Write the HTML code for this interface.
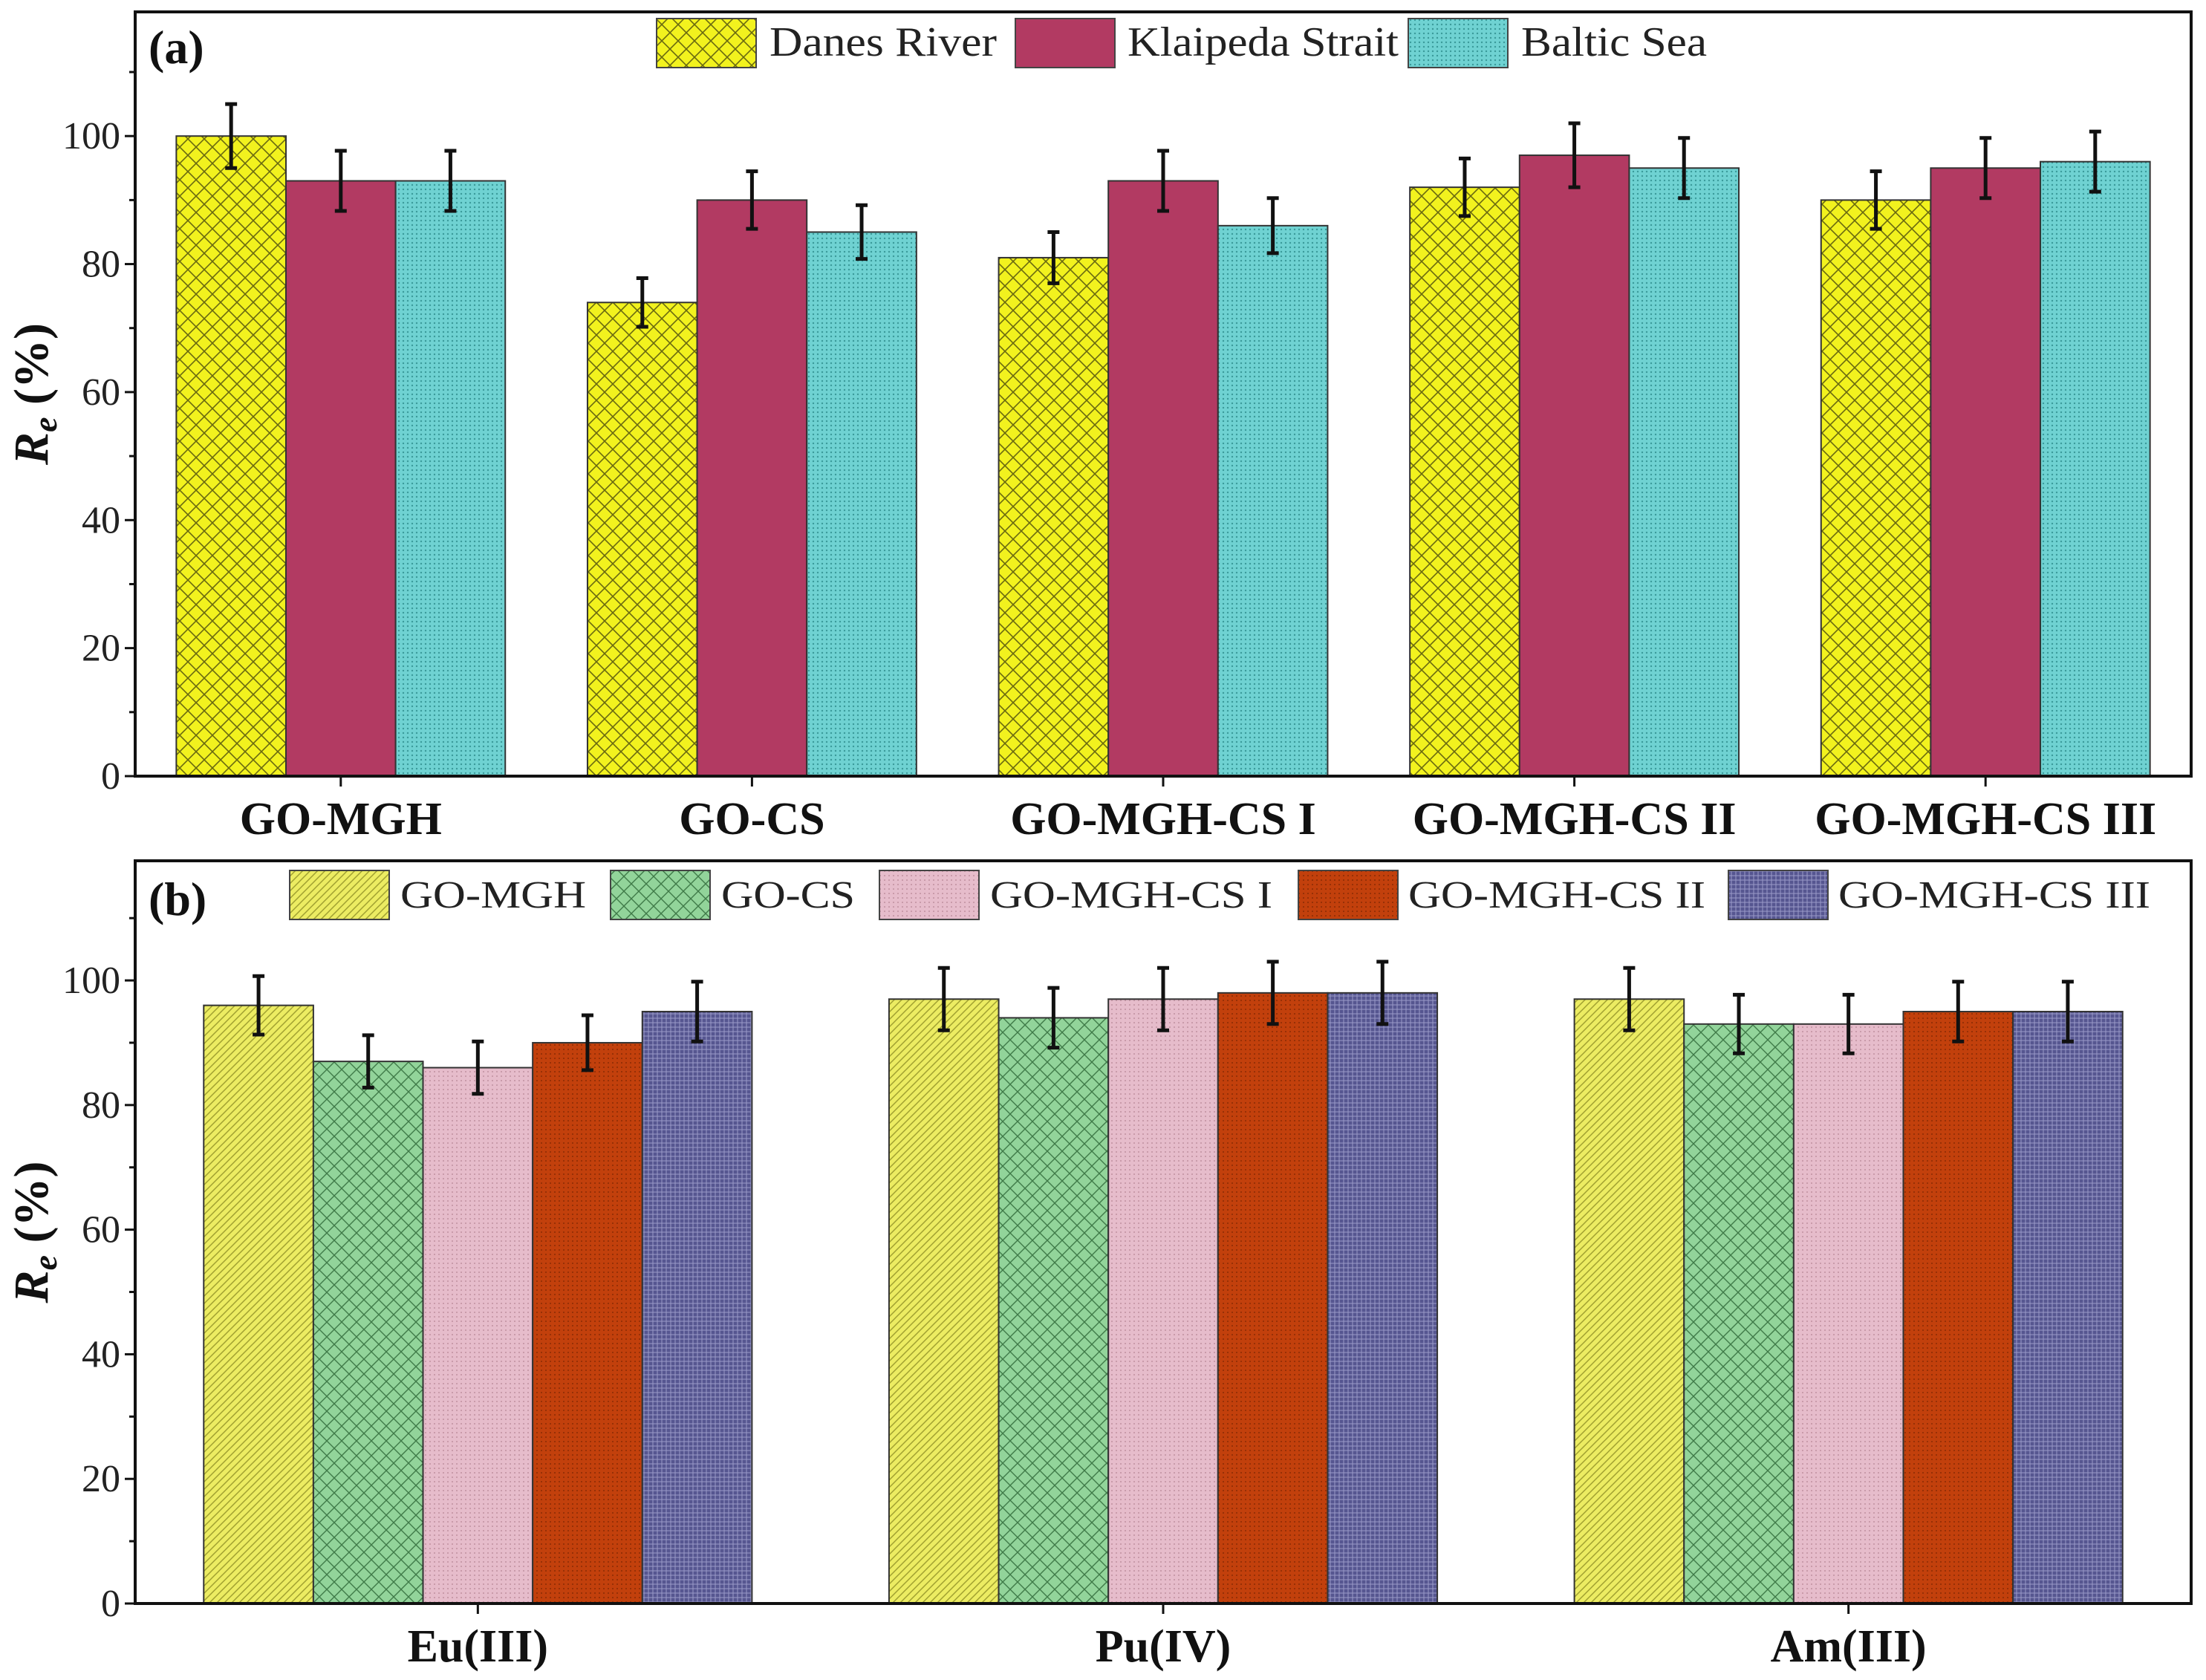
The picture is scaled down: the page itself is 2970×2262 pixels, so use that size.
<!DOCTYPE html>
<html><head><meta charset="utf-8"><style>
html,body{margin:0;padding:0;background:#fff;}
svg{display:block;font-family:"Liberation Serif",serif;}
</style></head><body>
<svg id="chart" width="2970" height="2262" viewBox="0 0 2970 2262" xmlns="http://www.w3.org/2000/svg">
<defs>
<pattern id="pDanes" width="22" height="22" patternUnits="userSpaceOnUse"><rect width="22" height="22" fill="#f2f21e"/><path d="M0 0L22 22M22 0L0 22" stroke="#6a6a10" stroke-width="1.6"/></pattern>
<pattern id="pKlai" width="8" height="8" patternUnits="userSpaceOnUse"><rect width="8" height="8" fill="#b23a62"/></pattern>
<pattern id="pBaltic" width="6" height="6" patternUnits="userSpaceOnUse"><rect width="6" height="6" fill="#6fd2d2"/><circle cx="3" cy="3" r="1.2" fill="#3a9a9a"/></pattern>
<pattern id="pMGH" width="10" height="10" patternUnits="userSpaceOnUse"><rect width="10" height="10" fill="#ecec62"/><path d="M0 10L10 0M-2 2L2 -2M8 12L12 8" stroke="#a0a030" stroke-width="1.5"/></pattern>
<pattern id="pCS" width="20" height="20" patternUnits="userSpaceOnUse"><rect width="20" height="20" fill="#92d49a"/><path d="M0 0L20 20M20 0L0 20" stroke="#3f7a48" stroke-width="1.4"/></pattern>
<pattern id="pCS1" width="6" height="6" patternUnits="userSpaceOnUse"><rect width="6" height="6" fill="#e6bccb"/><circle cx="3" cy="3" r="1" fill="#c090a0"/></pattern>
<pattern id="pCS2" width="6" height="6" patternUnits="userSpaceOnUse"><rect width="6" height="6" fill="#c2400c"/><circle cx="3" cy="3" r="1" fill="#8a2a04"/></pattern>
<pattern id="pCS3" width="6" height="6" patternUnits="userSpaceOnUse"><rect width="6" height="6" fill="#565690"/><path d="M3 0V6M0 3H6" stroke="#9a9ac8" stroke-width="1"/></pattern>
</defs>
<g id="panelA"></g>
<g id="panelB"></g>
</svg>
<script>
// Panel (a) data
const catsA = ["GO-MGH","GO-CS","GO-MGH-CS I","GO-MGH-CS II","GO-MGH-CS III"];
const seriesA = ["Danes River","Klaipeda Strait","Baltic Sea"];
const danes = [100,74,81,92,90];
const klaipeda = [93,90,93,97,95];
const baltic = [93,85,86,95,96];
const danesErr = [5,3.8,4,4.5,4.5];
const klaipedaErr = [4.7,4.5,4.7,5,4.7];
const balticErr = [4.7,4.2,4.3,4.7,4.7];
// Panel (b) data
const catsB = ["Eu(III)","Pu(IV)","Am(III)"];
const seriesB = ["GO-MGH","GO-CS","GO-MGH-CS I","GO-MGH-CS II","GO-MGH-CS III"];
const mgh = [96,97,97];
const cs = [87,94,93];
const cs1 = [86,97,93];
const cs2 = [90,98,95];
const cs3 = [95,98,95];
const mghErr = [4.7,5,5];
const csErr = [4.2,4.8,4.7];
const cs1Err = [4.2,5,4.7];
const cs2Err = [4.4,5,4.8];
const cs3Err = [4.8,5,4.8];
const yTicks = [0,20,40,60,80,100];

const NS="http://www.w3.org/2000/svg";
function mk(parent,tag,attrs,text){const e=document.createElementNS(NS,tag);for(const k in attrs)e.setAttribute(k,attrs[k]);if(text!==undefined)e.textContent=text;parent.appendChild(e);return e;}

function drawPanel(g,cfg){
  const {x0,x1,yTop,yZero,ymax,cats,vals,errs,fills,label,legend,legY,names} = cfg;
  const y = v => yZero - v*(yZero-yTop)/ymax;
  const n = cats.length, step=(x1-x0)/n, m=vals.length, bw=step*0.8/m;
  for(let s=0;s<m;s++){
    for(let i=0;i<n;i++){
      const cx = x0+step*(i+0.5), bx = cx-step*0.4+s*bw;
      const r = mk(g,'rect',{x:bx,y:y(vals[s][i]),width:bw,height:yZero-y(vals[s][i]),fill:`url(#${fills[s]})`,stroke:'#333',"stroke-width":2});
      
      
      const ex = bx+bw/2, hi=y(vals[s][i]+errs[s][i]), lo=y(vals[s][i]-errs[s][i]);
      const eb = mk(g,'path',{d:`M${ex} ${hi}V${lo}M${ex-8} ${hi}H${ex+8}M${ex-8} ${lo}H${ex+8}`,stroke:'#111',"stroke-width":5,fill:'none'});
      
      
    }
  }
  const fr = mk(g,'rect',{x:x0,y:yTop,width:x1-x0,height:yZero-yTop,fill:'none',stroke:'#111',"stroke-width":4});
  
  
  for(let v=0; v<=ymax; v+=10){
    const major = v%20===0;
    mk(g,'line',{x1:x0-(major?14:8),x2:x0,y1:y(v),y2:y(v),stroke:'#111',"stroke-width":3});
  }
  yTicks.forEach(v=>{
    const t = mk(g,'text',{x:x0-20,y:y(v)+17,"text-anchor":'end',"font-size":52,fill:'#222'},String(v));
    
    
  });
  for(let i=0;i<n;i++){
    const cx=x0+step*(i+0.5);
    mk(g,'line',{x1:cx,x2:cx,y1:yZero,y2:yZero+14,stroke:'#111',"stroke-width":3});
    const t = mk(g,'text',{x:cx,y:yZero+78,"text-anchor":'middle',"font-size":62,"font-weight":'bold',fill:'#111'},cats[i]);
    
    
  }
  const yc=(yTop+yZero)/2;
  const tt = mk(g,'text',{transform:`translate(64 ${yc}) rotate(-90)`,"text-anchor":'middle',"font-size":66,"font-weight":'bold',fill:'#111'});
  
  
  mk(tt,'tspan',{"font-style":'italic'},'R');
  mk(tt,'tspan',{"font-style":'italic',"font-size":46,dy:12},'e');
  mk(tt,'tspan',{dy:-12},' (%)');
  const pl = mk(g,'text',{x:x0+18,y:legY+60,"font-size":64,"font-weight":'bold',fill:'#111'},label);
  
  
  legend.forEach((L,s)=>{
    const lg = mk(g,'g',{});
    
    
    mk(lg,'rect',{x:L.sx,y:legY,width:134,height:66,fill:`url(#${fills[s]})`,stroke:'#444',"stroke-width":2});
    mk(lg,'text',{x:L.tx,y:legY+50,"font-size":L.fs,fill:'#222',textLength:L.tl,lengthAdjust:'spacingAndGlyphs'},L.t);
  });
}

drawPanel(document.getElementById('panelA'),{
  x0:182,x1:2950,yTop:16,yZero:1045,ymax:119.4,cats:catsA,
  vals:[danes,klaipeda,baltic],errs:[danesErr,klaipedaErr,balticErr],
  fills:['pDanes','pKlai','pBaltic'],names:['danes-river','klaipeda-strait','baltic-sea'],
  label:'(a)',legY:25,
  legend:[{sx:884,tx:1036,t:seriesA[0],fs:56,tl:306},{sx:1367,tx:1518,t:seriesA[1],fs:56,tl:365},{sx:1896,tx:2048,t:seriesA[2],fs:56,tl:250}]
});
drawPanel(document.getElementById('panelB'),{
  x0:182,x1:2950,yTop:1159,yZero:2159,ymax:119.2,cats:catsB,
  vals:[mgh,cs,cs1,cs2,cs3],errs:[mghErr,csErr,cs1Err,cs2Err,cs3Err],
  fills:['pMGH','pCS','pCS1','pCS2','pCS3'],names:['go-mgh','go-cs','go-mgh-cs-i','go-mgh-cs-ii','go-mgh-cs-iii'],
  label:'(b)',legY:1172,
  legend:[{sx:390,tx:539,t:seriesB[0],fs:52,tl:250},{sx:822,tx:971,t:seriesB[1],fs:52,tl:180},{sx:1184,tx:1333,t:seriesB[2],fs:52,tl:380},{sx:1748,tx:1896,t:seriesB[3],fs:52,tl:400},{sx:2327,tx:2475,t:seriesB[4],fs:52,tl:420}]
});
</script>
</body></html>
